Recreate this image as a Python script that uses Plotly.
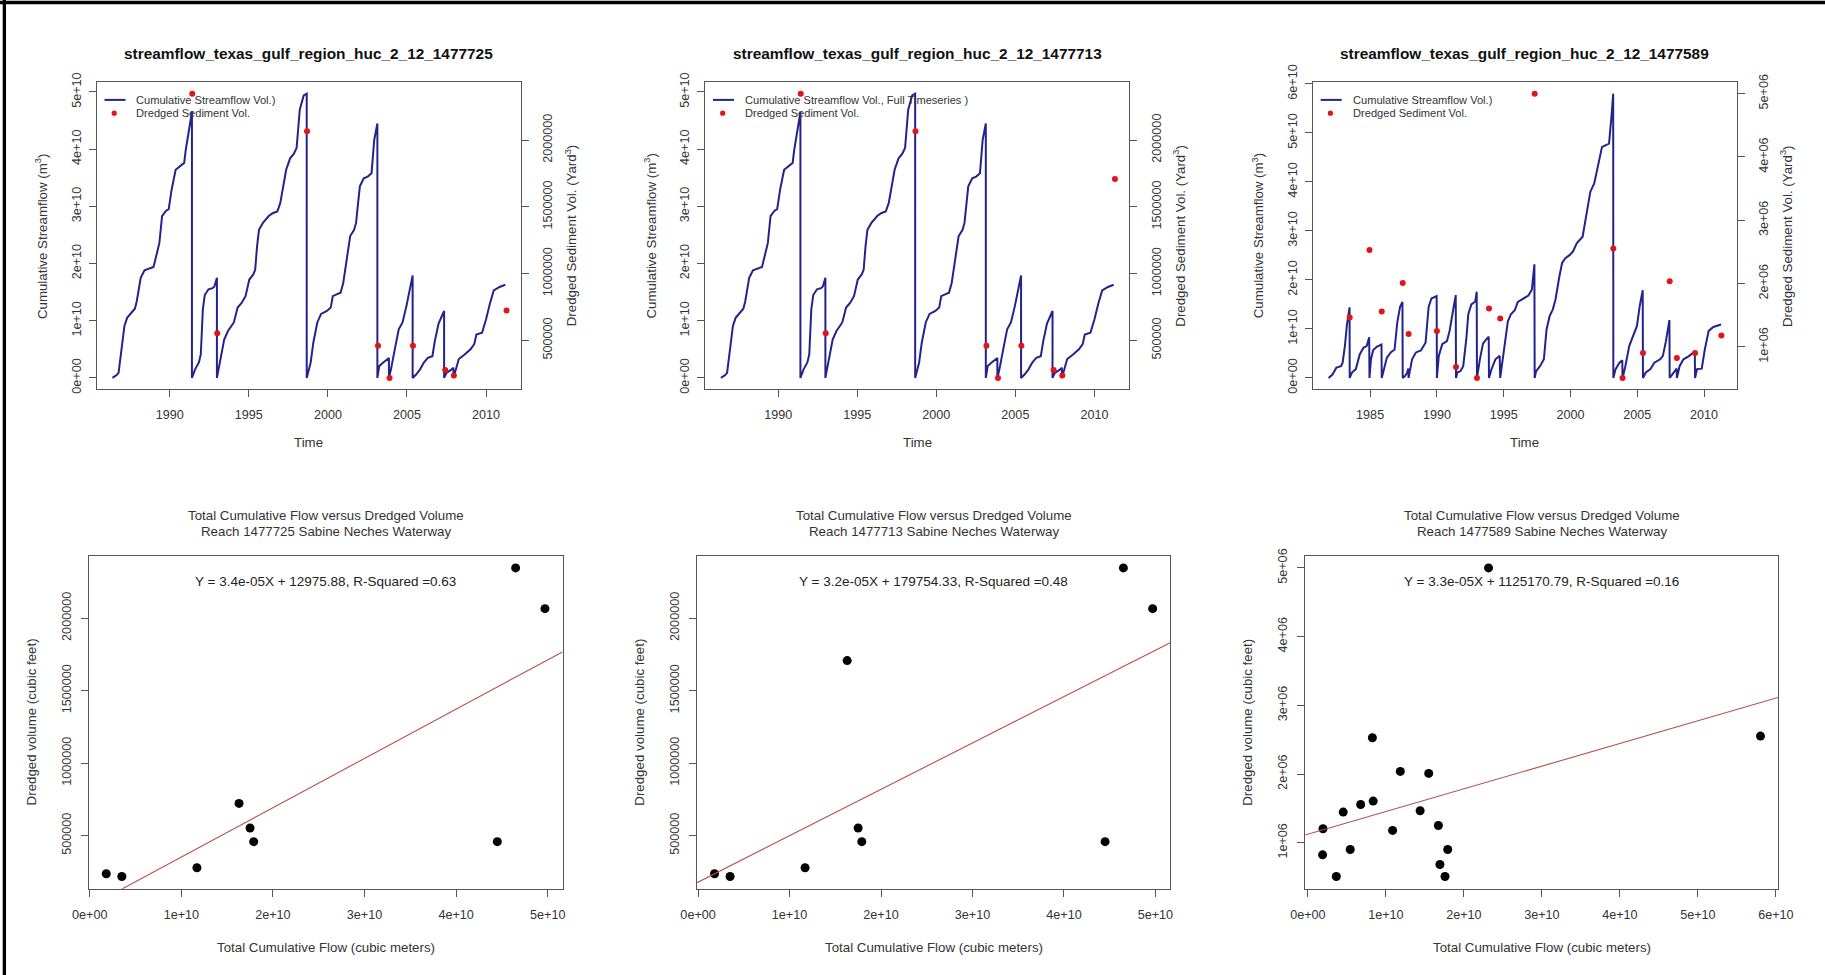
import plotly.graph_objects as go

W, H = 1825, 975
FONT = "Arial, 'Liberation Sans', Helvetica, sans-serif"
TXT = "#333333"
BOX = "#555555"
BLUE = "#23238e"
RED = "#e2141a"
FIT = "#b5504c"

# ---------------- streamflow record shared by reaches 1477725 / 1477713 ----------------
time_725 = [
    1986.37, 1986.64, 1986.76, 1986.93, 1987.13, 1987.30, 1987.55, 1987.79, 1987.91, 1988.16,
    1988.40, 1988.77, 1988.97, 1989.14, 1989.34, 1989.51, 1989.75, 1989.93, 1990.12, 1990.37,
    1990.61, 1990.91, 1991.01, 1991.20, 1991.40, 1991.40,
    1991.60, 1991.84, 1991.96, 1992.09, 1992.21, 1992.45, 1992.70, 1992.82, 1992.98, 1992.98,
    1993.19, 1993.44, 1993.68, 1993.93, 1994.05, 1994.29, 1994.54, 1994.79, 1995.03, 1995.28,
    1995.40, 1995.52, 1995.64, 1995.89, 1996.26, 1996.50, 1996.80, 1996.99, 1997.17, 1997.36,
    1997.61, 1997.85, 1998.02, 1998.22, 1998.47, 1998.66, 1998.66,
    1998.91, 1999.08, 1999.33, 1999.57, 1999.94, 2000.18, 2000.31, 2000.55, 2000.80, 2000.97,
    2001.17, 2001.41, 2001.66, 2001.78, 2002.02, 2002.27, 2002.52, 2002.76, 2002.93, 2003.13, 2003.13,
    2003.25, 2003.50, 2003.86, 2003.86,
    2003.99, 2004.23, 2004.48, 2004.72, 2004.97, 2005.36, 2005.36,
    2005.58, 2005.83, 2006.07, 2006.32, 2006.61, 2006.76, 2007.00, 2007.35, 2007.35,
    2007.50, 2007.79, 2007.94, 2007.94,
    2008.04, 2008.28, 2008.65, 2009.02, 2009.26, 2009.39, 2009.75, 2010.00, 2010.25, 2010.49,
    2010.86, 2011.22,
]
flow_725 = [
    0.00e10, 0.05e10, 0.09e10, 0.50e10, 0.91e10, 1.05e10, 1.14e10, 1.21e10, 1.34e10, 1.75e10,
    1.88e10, 1.92e10, 1.94e10, 2.13e10, 2.36e10, 2.83e10, 2.92e10, 2.95e10, 3.30e10, 3.64e10,
    3.69e10, 3.76e10, 3.99e10, 4.33e10, 4.65e10, 0.00e10,
    0.15e10, 0.27e10, 0.41e10, 1.20e10, 1.45e10, 1.55e10, 1.57e10, 1.60e10, 1.75e10, 0.00e10,
    0.33e10, 0.67e10, 0.82e10, 0.91e10, 0.97e10, 1.23e10, 1.31e10, 1.43e10, 1.72e10, 1.81e10,
    1.89e10, 2.30e10, 2.59e10, 2.71e10, 2.83e10, 2.88e10, 2.91e10, 3.06e10, 3.35e10, 3.64e10,
    3.84e10, 3.92e10, 4.02e10, 4.69e10, 4.94e10, 4.97e10, 0.00e10,
    0.27e10, 0.62e10, 0.97e10, 1.12e10, 1.17e10, 1.23e10, 1.43e10, 1.46e10, 1.49e10, 1.66e10,
    2.01e10, 2.48e10, 2.59e10, 2.71e10, 3.35e10, 3.49e10, 3.52e10, 3.58e10, 4.16e10, 4.45e10, 0.00e10,
    0.21e10, 0.27e10, 0.35e10, 0.00e10,
    0.15e10, 0.50e10, 0.85e10, 0.97e10, 1.26e10, 1.79e10, 0.00e10,
    0.06e10, 0.15e10, 0.27e10, 0.35e10, 0.38e10, 0.64e10, 0.95e10, 1.17e10, 0.00e10,
    0.09e10, 0.14e10, 0.18e10, 0.00e10,
    0.09e10, 0.33e10, 0.41e10, 0.50e10, 0.59e10, 0.76e10, 0.79e10, 1.02e10, 1.30e10, 1.53e10,
    1.59e10, 1.63e10,
]

# dredging events (reaches 1477725 and 1477713)
dredge_date_725 = [1991.42, 1993.00, 1998.68, 2003.17, 2003.90, 2005.38, 2007.42, 2007.97, 2011.30]
dredge_flow_725 = [4.65e10, 1.75e10, 4.97e10, 4.45e10, 0.35e10, 1.79e10, 1.17e10, 0.18e10, 1.63e10]
dredge_vol_725 = [2347000, 553000, 2066000, 459000, 219000, 459000, 279000, 238000, 723000]
dredge_vol_713 = [2347000, 553000, 2066000, 459000, 219000, 459000, 279000, 238000, 1708000]

# ---------------- streamflow record for reach 1477589 ----------------
time_589 = [
    1981.89, 1982.18, 1982.47, 1982.82, 1982.94, 1983.11, 1983.26, 1983.46, 1983.47,
    1983.64, 1983.93, 1984.22, 1984.51, 1984.74, 1984.93, 1984.95,
    1985.06, 1985.23, 1985.52, 1985.85, 1985.87,
    1986.02, 1986.25, 1986.54, 1986.83, 1987.03, 1987.24, 1987.42, 1987.44,
    1987.61, 1987.76, 1987.86, 1987.88,
    1988.14, 1988.43, 1988.80, 1989.15, 1989.38, 1989.59, 1989.98, 1990.00,
    1990.14, 1990.40, 1990.75, 1990.95, 1991.18, 1991.41, 1991.43,
    1991.53, 1991.77, 1991.97, 1992.20, 1992.35, 1992.58, 1992.87, 1992.98, 1993.00,
    1993.22, 1993.45, 1993.68, 1993.88, 1993.90,
    1994.09, 1994.38, 1994.70, 1994.74,
    1994.90, 1995.10, 1995.31, 1995.54, 1995.83, 1996.06, 1996.41, 1996.85, 1997.11, 1997.30, 1997.32,
    1997.43, 1997.72, 1998.01, 1998.21, 1998.44, 1998.68, 1998.88, 1999.17, 1999.37, 1999.60,
    1999.95, 2000.19, 2000.48, 2000.91, 2001.29, 2001.49, 2001.78, 2002.07, 2002.36, 2002.65,
    2002.89, 2003.06, 2003.20, 2003.21,
    2003.38, 2003.67, 2003.88, 2003.90,
    2004.11, 2004.40, 2004.69, 2004.98, 2005.18, 2005.41, 2005.43,
    2005.64, 2005.99, 2006.28, 2006.72, 2006.92, 2007.15, 2007.41, 2007.43,
    2007.68, 2007.95, 2007.97,
    2008.17, 2008.46, 2008.84, 2009.31, 2009.33,
    2009.48, 2009.83, 2010.06, 2010.35, 2010.70, 2011.28,
]
flow_589 = [
    0.00e10, 0.07e10, 0.21e10, 0.24e10, 0.31e10, 0.65e10, 1.08e10, 1.44e10, 0.00e10,
    0.11e10, 0.18e10, 0.48e10, 0.62e10, 0.65e10, 0.83e10, 0.00e10,
    0.38e10, 0.57e10, 0.64e10, 0.68e10, 0.00e10,
    0.18e10, 0.41e10, 0.52e10, 0.58e10, 1.13e10, 1.45e10, 1.55e10, 0.00e10,
    0.04e10, 0.10e10, 0.19e10, 0.00e10,
    0.38e10, 0.52e10, 0.56e10, 0.72e10, 1.45e10, 1.62e10, 1.67e10, 0.00e10,
    0.45e10, 0.69e10, 0.75e10, 0.96e10, 1.33e10, 1.69e10, 0.00e10,
    0.11e10, 0.14e10, 0.24e10, 0.79e10, 1.30e10, 1.50e10, 1.56e10, 1.76e10, 0.00e10,
    0.38e10, 0.70e10, 0.78e10, 0.84e10, 0.00e10,
    0.18e10, 0.38e10, 0.45e10, 0.00e10,
    0.31e10, 0.70e10, 1.15e10, 1.30e10, 1.38e10, 1.55e10, 1.60e10, 1.68e10, 1.80e10, 2.32e10, 0.00e10,
    0.14e10, 0.24e10, 0.38e10, 0.99e10, 1.26e10, 1.40e10, 1.60e10, 2.07e10, 2.34e10, 2.44e10,
    2.51e10, 2.58e10, 2.75e10, 2.88e10, 3.50e10, 3.80e10, 3.97e10, 4.37e10, 4.71e10, 4.75e10,
    4.78e10, 5.30e10, 5.80e10, 0.00e10,
    0.18e10, 0.31e10, 0.36e10, 0.00e10,
    0.24e10, 0.65e10, 0.85e10, 1.06e10, 1.46e10, 1.79e10, 0.00e10,
    0.11e10, 0.18e10, 0.31e10, 0.38e10, 0.45e10, 0.75e10, 1.18e10, 0.00e10,
    0.10e10, 0.19e10, 0.00e10,
    0.24e10, 0.38e10, 0.44e10, 0.54e10, 0.00e10,
    0.18e10, 0.19e10, 0.58e10, 0.96e10, 1.04e10, 1.09e10,
]

dredge_date_589 = [1983.47, 1984.95, 1985.87, 1987.44, 1987.88, 1990.00, 1991.43, 1993.00, 1993.90,
                   1994.74, 1997.32, 2003.21, 2003.90, 2005.43, 2007.43, 2007.97, 2009.33, 2011.30]
dredge_flow_589 = [1.439e10, 0.827e10, 0.677e10, 1.549e10, 0.194e10, 1.673e10, 1.693e10, 1.758e10, 0.837e10,
                   0.453e10, 2.316e10, 5.802e10, 0.364e10, 1.793e10, 1.185e10, 0.189e10, 0.543e10, 1.086e10]
dredge_vol_589 = [1466000, 2529000, 1558000, 2010000, 1204000, 1252000, 684000, 510000, 1607000,
                  1447000, 5000000, 2553000, 510000, 903000, 2039000, 825000, 903000, 1180000]

# ---------------- regression results ----------------
reaches = ["1477725", "1477713", "1477589"]
fit_slope = [3.4e-05, 3.2e-05, 3.3e-05]
fit_intercept = [12975.88, 179754.33, 1125170.79]
fit_r2 = [0.63, 0.48, 0.16]

# ---------------- tick labels ----------------
year_ticks_a = [1990, 1995, 2000, 2005, 2010]
year_ticks_b = [1985, 1990, 1995, 2000, 2005, 2010]
flow_ticks_5 = [0, 1e10, 2e10, 3e10, 4e10, 5e10]
flow_labels_5 = ["0e+00", "1e+10", "2e+10", "3e+10", "4e+10", "5e+10"]
flow_ticks_6 = flow_ticks_5 + [6e10]
flow_labels_6 = flow_labels_5 + ["6e+10"]
vol_ticks_a = [500000, 1000000, 1500000, 2000000]
vol_labels_a = ["500000", "1000000", "1500000", "2000000"]
vol_ticks_b = [1e6, 2e6, 3e6, 4e6, 5e6]
vol_labels_b = ["1e+06", "2e+06", "3e+06", "4e+06", "5e+06"]


def px(x):
    return x / W


def py(y):
    return 1 - y / H


def rrange(vals):
    lo, hi = min(vals), max(vals)
    d = hi - lo
    return [lo - 0.04 * d, hi + 0.04 * d]


fig = go.Figure()
layout = {}
shapes = []
ann = []


def text(x, y, s, size=13.3, angle=0, color=TXT, bold=False, xanchor="center"):
    if bold:
        s = "<b>" + s + "</b>"
    ann.append(dict(x=px(x), y=py(y), xref="paper", yref="paper", text=s, showarrow=False,
                    textangle=angle, xanchor=xanchor, yanchor="middle",
                    font=dict(family=FONT, size=size, color=color)))


def base_axis(**kw):
    d = dict(showgrid=False, zeroline=False, showline=True, mirror=True, linecolor=BOX,
             linewidth=1.3, ticks="outside", ticklen=7, tickwidth=1.2, tickcolor=BOX,
             tickfont=dict(family=FONT, size=12.6, color=TXT), tickmode="array",
             automargin=False)
    d.update(kw)
    return d


# ---------------- top row: cumulative streamflow vs time ----------------
TOP_T, TOP_B = 82.3, 389.3
top_boxes = [(96.7, 521.0), (705.2, 1129.4), (1312.9, 1736.8)]
top_series = [
    (time_725, flow_725, dredge_date_725, dredge_vol_725, year_ticks_a, flow_ticks_5, flow_labels_5,
     vol_ticks_a, vol_labels_a, "Cumulative Streamflow Vol.)"),
    (time_725, flow_725, dredge_date_725, dredge_vol_713, year_ticks_a, flow_ticks_5, flow_labels_5,
     vol_ticks_a, vol_labels_a, "Cumulative Streamflow Vol., Full Timeseries )"),
    (time_589, flow_589, dredge_date_589, dredge_vol_589, year_ticks_b, flow_ticks_6, flow_labels_6,
     vol_ticks_b, vol_labels_b, "Cumulative Streamflow Vol.)"),
]

for i, ((L, R), (t, q, dd, dv, xt, yt, yl, vt, vl, leg)) in enumerate(zip(top_boxes, top_series)):
    n = i + 1
    xa = "xaxis" if n == 1 else f"xaxis{n}"
    ya = "yaxis" if n == 1 else f"yaxis{n}"
    xr = "x" if n == 1 else f"x{n}"
    yr = "y" if n == 1 else f"y{n}"
    y2n = 6 + n
    layout[xa] = base_axis(domain=[px(L), px(R)], anchor=yr, range=rrange(t),
                           tickvals=xt, ticktext=[str(v) for v in xt], ticklabelstandoff=6)
    layout[ya] = base_axis(domain=[py(TOP_B), py(TOP_T)], anchor=xr, range=rrange(q),
                           tickvals=yt, ticktext=yl, tickangle=-90, ticklabelstandoff=3)
    layout[f"yaxis{y2n}"] = base_axis(overlaying=yr, side="right", anchor=xr, range=rrange(dv),
                                      tickvals=vt, ticktext=vl, tickangle=-90, showline=False,
                                      mirror=False, ticklabelstandoff=8)
    fig.add_trace(go.Scatter(x=t, y=q, mode="lines", line=dict(color=BLUE, width=2),
                             xaxis=xr, yaxis=yr, showlegend=False, hoverinfo="skip"))
    fig.add_trace(go.Scatter(x=dd, y=dv, mode="markers",
                             marker=dict(color=RED, size=6, line=dict(width=0)),
                             xaxis=xr, yaxis=f"y{y2n}", showlegend=False))

    cx = (L + R) / 2
    cy = (TOP_T + TOP_B) / 2
    text(cx, 53.3, "streamflow_texas_gulf_region_huc_2_12_" + reaches[i], size=15.4, bold=True, color="#111111")
    text(cx, 442.5, "Time")
    text(L - 54.4, cy, "Cumulative Streamflow (m<sup>3</sup>)", angle=-90)
    text(R + 50.5, cy, "Dredged Sediment Vol. (Yard<sup>3</sup>)", angle=-90)

    # legend block
    shapes.append(dict(type="line", xref="paper", yref="paper",
                       x0=px(L + 7.8), x1=px(L + 28.8), y0=py(99.9), y1=py(99.9),
                       line=dict(color=BLUE, width=2)))
    shapes.append(dict(type="circle", xref="paper", yref="paper",
                       x0=px(L + 17.5 - 2.6), x1=px(L + 17.5 + 2.6),
                       y0=py(113.2 + 2.6), y1=py(113.2 - 2.6),
                       fillcolor=RED, line=dict(width=0)))
    text(L + 37.7, 99.9, leg, size=11.1, xanchor="left")
    text(L + 37.7, 113.2, "Dredged Sediment Vol.", size=11.1, xanchor="left")

# ---------------- bottom row: dredged volume vs total cumulative flow ----------------
BOT_T, BOT_B = 555.6, 888.8
bot_boxes = [(88.7, 562.5), (697.0, 1170.2), (1305.1, 1778.0)]
bot_series = [
    (dredge_flow_725, dredge_vol_725, flow_ticks_5, flow_labels_5, vol_ticks_a, vol_labels_a),
    (dredge_flow_725, dredge_vol_713, flow_ticks_5, flow_labels_5, vol_ticks_a, vol_labels_a),
    (dredge_flow_589, dredge_vol_589, flow_ticks_6, flow_labels_6, vol_ticks_b, vol_labels_b),
]

for i, ((L, R), (fx, fy, xt, xl, yt, yl)) in enumerate(zip(bot_boxes, bot_series)):
    n = i + 4
    xr, yr = f"x{n}", f"y{n}"
    x_rng = rrange(fx)
    y_rng = rrange(fy)
    layout[f"xaxis{n}"] = base_axis(domain=[px(L), px(R)], anchor=yr, range=x_rng,
                                    tickvals=xt, ticktext=xl, ticklabelstandoff=7)
    layout[f"yaxis{n}"] = base_axis(domain=[py(BOT_B), py(BOT_T)], anchor=xr, range=y_rng,
                                    tickvals=yt, ticktext=yl, tickangle=-90, ticklabelstandoff=5)
    fig.add_trace(go.Scatter(x=fx, y=fy, mode="markers",
                             marker=dict(color="black", size=9, line=dict(width=0)),
                             xaxis=xr, yaxis=yr, showlegend=False))
    # least-squares line across the full plotting region
    lx = [x_rng[0], x_rng[1]]
    ly = [fit_slope[i] * v + fit_intercept[i] for v in lx]
    fig.add_trace(go.Scatter(x=lx, y=ly, mode="lines", line=dict(color=FIT, width=1.1),
                             xaxis=xr, yaxis=yr, showlegend=False, hoverinfo="skip"))

    cx = (L + R) / 2
    cy = (BOT_T + BOT_B) / 2
    text(cx, 515.0, "Total Cumulative Flow versus Dredged Volume")
    text(cx, 531.6, "Reach " + reaches[i] + " Sabine Neches Waterway")
    eq = "Y = %.1eX + %.2f, R-Squared =%.2f" % (fit_slope[i], fit_intercept[i], fit_r2[i])
    text(cx, 581.5, eq, size=13.5, color="#222222")
    text(cx, 947.0, "Total Cumulative Flow (cubic meters)")
    text(L - 57.5, cy, "Dredged volume (cubic feet)", angle=-90)

# frame lines along the top and left edges
shapes.append(dict(type="rect", xref="paper", yref="paper", x0=0, x1=1, y0=py(4.2), y1=py(0.8),
                   fillcolor="black", line=dict(width=0)))
shapes.append(dict(type="rect", xref="paper", yref="paper", x0=px(2.7), x1=px(6.0), y0=0, y1=1,
                   fillcolor="black", line=dict(width=0)))

fig.update_layout(
    width=W, height=H, margin=dict(l=0, r=0, t=0, b=0, pad=0, autoexpand=False),
    paper_bgcolor="white", plot_bgcolor="white", showlegend=False,
    font=dict(family=FONT, color=TXT), annotations=ann, shapes=shapes, **layout,
)

fig.write_html("out.html", config={"displayModeBar": False})
